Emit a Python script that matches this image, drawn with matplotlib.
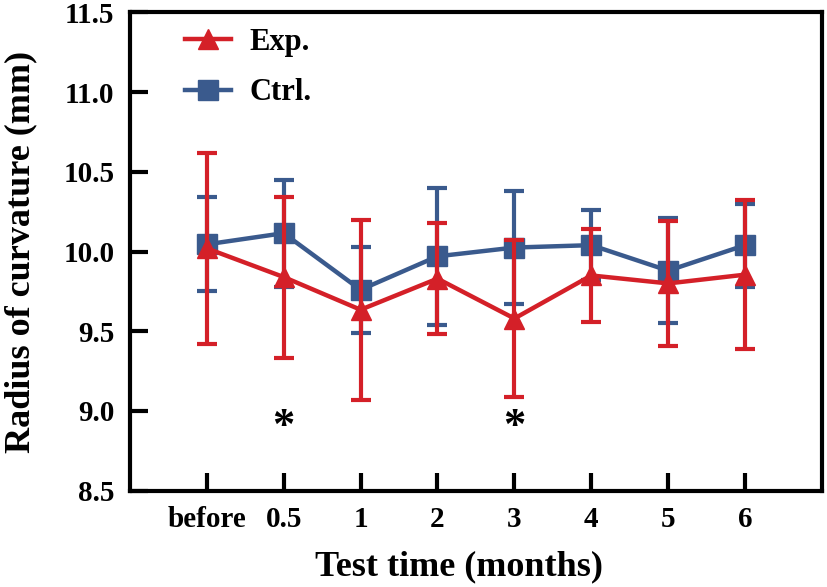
import matplotlib
matplotlib.use('Agg')
import matplotlib.pyplot as plt
from matplotlib.lines import Line2D

# values
time_labels = ['before', '0.5', '1', '2', '3', '4', '5', '6']
exp_mean = [10.02, 9.84, 9.635, 9.83, 9.58, 9.85, 9.80, 9.855]
exp_err = [0.60, 0.505, 0.565, 0.35, 0.49, 0.29, 0.39, 0.465]
ctrl_mean = [10.045, 10.115, 9.76, 9.97, 10.025, 10.04, 9.88, 10.04]
ctrl_err = [0.295, 0.335, 0.27, 0.43, 0.355, 0.22, 0.33, 0.26]
star_labels = ['0.5', '3']
star_y = [8.9, 8.9]

RED = '#D42028'
BLUE = '#3A5A8D'

plt.rcParams['font.family'] = ['Liberation Serif', 'DejaVu Serif']
plt.rcParams['font.weight'] = 'bold'

fig = plt.figure(figsize=(8.27, 5.87), dpi=100)
ax = fig.add_axes([0.157, 0.164, 0.837, 0.815])

x = list(range(len(time_labels)))

ax.errorbar(x, ctrl_mean, yerr=ctrl_err, color=BLUE, lw=3.2, marker='s', ms=14.5,
            capsize=7, capthick=3, elinewidth=3, zorder=2)
ax.errorbar(x, exp_mean, yerr=exp_err, color=RED, lw=3.2, marker='^', ms=14.5,
            capsize=7, capthick=3, elinewidth=3, zorder=3)

for lab, yy in zip(star_labels, star_y):
    ax.text(time_labels.index(lab), yy, '*', ha='center', va='center',
            fontsize=32, fontweight='bold')

ax.set_xlim(-1, 8)
ax.set_ylim(8.5, 11.5)
ax.set_xticks(x)
ax.set_xticklabels(time_labels)
ax.set_yticks([8.5, 9.0, 9.5, 10.0, 10.5, 11.0, 11.5])
ax.set_yticklabels(['8.5', '9.0', '9.5', '10.0', '10.5', '11.0', '11.5'])

for sp in ax.spines.values():
    sp.set_linewidth(3)
ax.tick_params(axis='both', direction='in', length=13, width=3, labelsize=21)
ax.tick_params(axis='x', pad=11)
ax.tick_params(axis='y', pad=11)

ax.set_xlabel('Test time (months)', fontsize=26, fontweight='bold')
ax.set_ylabel('Radius of curvature (mm)', fontsize=26, fontweight='bold')
ax.xaxis.set_label_coords(0.475, -0.125)
ax.yaxis.set_label_coords(-0.133, 0.5)

handles = [
    Line2D([], [], color=RED, lw=3.2, marker='^', ms=14.5),
    Line2D([], [], color=BLUE, lw=3.2, marker='s', ms=14.5),
]
ax.legend(handles, ['Exp.', 'Ctrl.'], loc='upper left', frameon=False,
          fontsize=22, handlelength=1.5, handletextpad=0.6, labelspacing=0.7,
          bbox_to_anchor=(0.04, 1.025))

fig.savefig('out.png', dpi=100)
